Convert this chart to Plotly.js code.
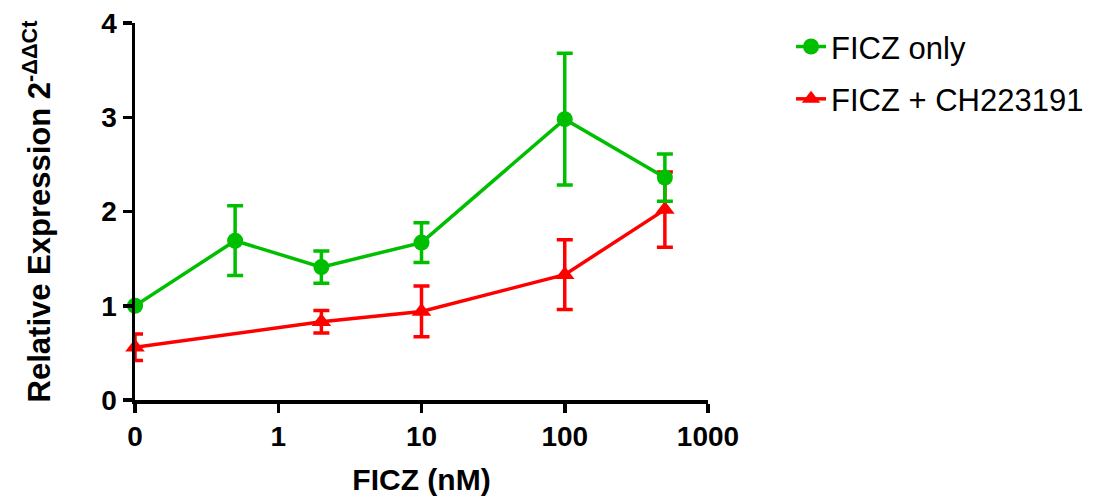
<!DOCTYPE html>
<html>
<head>
<meta charset="utf-8">
<script src="https://cdn.plot.ly/plotly-3.0.1.min.js"></script>
<style>html,body{margin:0;padding:0;background:#fff}#chart{width:1111px;height:497px}</style>
</head>
<body>
<div id="chart"></div>
<script>
// Data (FICZ concentration in nM; 0 is drawn at the axis origin)
const ficzOnlyConc = [0, 0.5, 2, 10, 100, 500];
const ficzOnlyMean = [1.00, 1.69, 1.41, 1.67, 2.98, 2.36];
const ficzOnlyErr  = [0.00, 0.37, 0.17, 0.21, 0.70, 0.25];

const ficzCHConc = [0, 2, 10, 100, 500];
const ficzCHMean = [0.56, 0.83, 0.94, 1.33, 2.02];
const ficzCHErr  = [0.14, 0.12, 0.27, 0.37, 0.40];

const xTickVals = [0.1, 1, 10, 100, 1000];
const xTickText = ['0', '1', '10', '100', '1000'];
const seriesNames = ['FICZ only', 'FICZ + CH223191'];

const zeroPos = 0.1;
const toAxis = arr => arr.map(v => v === 0 ? zeroPos : v);

const green = '#00BE00';
const red = '#FF0000';
const FONT = 'Liberation Sans, Arial, sans-serif';

const traces = [
  {
    x: toAxis(ficzCHConc), y: ficzCHMean, name: seriesNames[1], legendgroup: 'b', legendrank: 2,
    type: 'scatter', mode: 'lines+markers',
    line: {color: red, width: 3.5},
    marker: {color: red, symbol: 'triangle-up', size: 17},
    error_y: {type: 'data', array: ficzCHErr, visible: true, color: red, thickness: 3.5, width: 8},
    cliponaxis: false
  },
  {
    x: toAxis(ficzOnlyConc), y: ficzOnlyMean, name: seriesNames[0], legendgroup: 'a', legendrank: 1,
    type: 'scatter', mode: 'lines+markers',
    line: {color: green, width: 3.5},
    marker: {color: green, symbol: 'circle', size: 16},
    error_y: {type: 'data', array: ficzOnlyErr, visible: true, color: green, thickness: 3.5, width: 8},
    cliponaxis: false
  }
];

const tickFont = {family: FONT, size: 28, color: '#000', weight: 'bold'};

const layout = {
  width: 1111, height: 497,
  margin: {l: 135, r: 403, t: 23, b: 97},
  paper_bgcolor: '#fff', plot_bgcolor: '#fff',
  showlegend: true,
  legend: {
    traceorder: 'grouped',
    xref: 'container', yref: 'container',
    x: 0.712, y: 0.96, xanchor: 'left', yanchor: 'top',
    font: {family: FONT, size: 31, color: '#000'},
    tracegroupgap: 9
  },
  xaxis: {
    type: 'log', range: [-1, 3],
    tickvals: xTickVals, ticktext: xTickText,
    showgrid: false, zeroline: false,
    showline: true, linecolor: '#000', linewidth: 3.5,
    ticks: 'outside', ticklen: 9, tickwidth: 3.5, tickcolor: '#000',
    tickfont: tickFont,
    title: {text: 'FICZ (nM)', font: {family: FONT, size: 30, color: '#000', weight: 'bold'}, standoff: 19}
  },
  yaxis: {
    range: [0, 4], tickvals: [0, 1, 2, 3, 4],
    showgrid: false, zeroline: false,
    showline: true, linecolor: '#000', linewidth: 3.5,
    ticks: 'outside', ticklen: 9, tickwidth: 3.5, tickcolor: '#000',
    tickfont: tickFont,
    title: {text: 'Relative Expression 2<sup>-ΔΔCt</sup>', font: {family: FONT, size: 31, color: '#000', weight: 'bold'}, standoff: 42}
  }
};

Plotly.newPlot('chart', traces, layout, {displayModeBar: false, staticPlot: true});
</script>
</body>
</html>
